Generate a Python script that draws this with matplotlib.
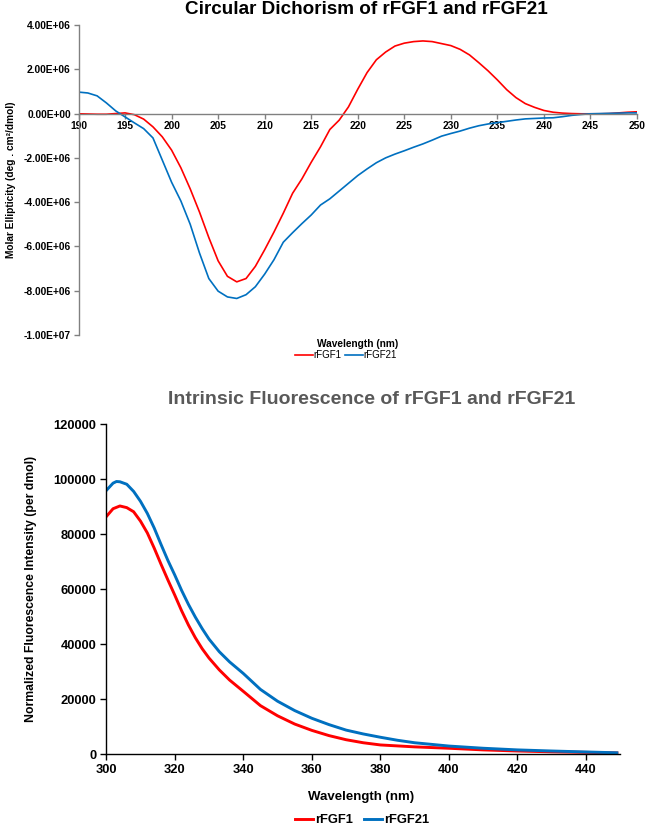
import matplotlib
matplotlib.use("Agg")
import matplotlib.pyplot as plt
from matplotlib.ticker import FuncFormatter, MultipleLocator
from matplotlib.lines import Line2D

plt.rcParams['font.family'] = ['Liberation Sans', 'DejaVu Sans']

# ---------------- Data: Circular Dichroism ----------------
cd_wavelength = list(range(190, 251))
cd_rfgf1 = [-0.01, -0.02, -0.03, -0.03, 0.0, 0.03, -0.05, -0.25, -0.6, -1.05,
            -1.65, -2.45, -3.4, -4.45, -5.6, -6.65, -7.35, -7.6, -7.45, -6.9,
            -6.15, -5.35, -4.5, -3.6, -2.95, -2.2, -1.5, -0.72, -0.3, 0.3,
            1.1, 1.85, 2.43, 2.78, 3.05, 3.18, 3.25, 3.28, 3.25, 3.16,
            3.07, 2.9, 2.65, 2.3, 1.93, 1.52, 1.08, 0.72, 0.45, 0.28,
            0.14, 0.06, 0.02, 0.0, -0.01, -0.01, -0.01, 0.0, 0.03, 0.06, 0.08]
cd_rfgf21 = [0.97, 0.93, 0.8, 0.48, 0.12, -0.15, -0.42, -0.68, -1.1, -2.1,
             -3.1, -3.95, -5.0, -6.3, -7.45, -8.02, -8.28, -8.35, -8.18, -7.82,
             -7.25, -6.6, -5.81, -5.38, -4.97, -4.58, -4.13, -3.85, -3.5, -3.15,
             -2.8, -2.5, -2.22, -2.0, -1.83, -1.68, -1.52, -1.37, -1.2, -1.02,
             -0.9, -0.79, -0.66, -0.55, -0.47, -0.41, -0.35, -0.29, -0.24, -0.22,
             -0.2, -0.19, -0.14, -0.08, -0.04, -0.01, 0.0, 0.01, 0.02, 0.03, 0.03]
cd_scale = 1e6

# ---------------- Data: Intrinsic Fluorescence ----------------
fl_wl_1 = [300, 302, 304, 306, 308, 310, 312, 314, 316, 318, 320, 322, 324, 326,
           328, 330, 333, 336, 340, 345, 350, 355, 360, 365, 370, 375, 380, 390,
           400, 410, 420, 430, 440, 449]
fl_rfgf1 = [86400, 89300, 90300, 89700, 88200, 84800, 80500, 75000, 69100, 63400,
            57900, 52200, 47000, 42400, 38400, 35000, 30700, 27000, 22900, 17700,
            14000, 11000, 8700, 6800, 5300, 4200, 3400, 2700, 2200, 1600, 1200,
            900, 700, 500]
fl_wl_21 = [300, 302, 303, 304, 306, 308, 310, 312, 314, 316, 318, 320, 322, 324,
            326, 328, 330, 333, 336, 340, 345, 350, 355, 360, 365, 370, 375, 380,
            385, 390, 400, 410, 420, 430, 440, 449]
fl_rfgf21 = [95900, 98600, 99200, 99100, 98200, 95600, 92000, 87600, 82300, 76300,
             70500, 65200, 59600, 54500, 49900, 45700, 41900, 37300, 33600, 29400,
             23600, 19300, 15900, 13100, 10800, 8800, 7400, 6200, 5100, 4200, 3000,
             2200, 1600, 1200, 850, 550]

series_names = ["rFGF1", "rFGF21"]
RED = "#FF0000"
BLUE = "#0070C0"

fig = plt.figure(figsize=(6.47, 8.26), dpi=100)
W, H = 647, 826

def ax_rect(x0, y0, x1, y1):
    return [x0 / W, 1 - y1 / H, (x1 - x0) / W, (y1 - y0) / H]

# ================= Top chart =================
ax1 = fig.add_axes(ax_rect(78.5, 25, 637, 335))
ax1.plot(cd_wavelength, [v * cd_scale for v in cd_rfgf1], color=RED, lw=1.2)
ax1.plot(cd_wavelength, [v * cd_scale for v in cd_rfgf21], color=BLUE, lw=1.2)
ax1.set_xlim(190, 250)
ax1.set_ylim(-1e7, 4e6)
ax1.yaxis.set_major_locator(MultipleLocator(2e6))
ax1.xaxis.set_major_locator(MultipleLocator(5))
ax1.yaxis.set_major_formatter(FuncFormatter(lambda v, p: format(v, '.2E')))
for s in ['top', 'right']:
    ax1.spines[s].set_visible(False)
ax1.spines['bottom'].set_position(('data', 0))
for s in ['left', 'bottom']:
    ax1.spines[s].set_color('#808080')
    ax1.spines[s].set_linewidth(1.0)
ax1.tick_params(axis='both', direction='out', length=3.5, width=1, color='#808080',
                labelsize=7.4, pad=2)
for lab in ax1.get_xticklabels() + ax1.get_yticklabels():
    lab.set_fontweight('bold')
ax1.set_ylabel("Molar Ellipticity (deg . cm\u00b2/dmol)", fontsize=7.3, fontweight='bold',
               labelpad=3)
ax1.yaxis.set_label_coords(-0.112, 0.5)
fig.text(366 / W, 1 - 10 / H, "Circular Dichorism of rFGF1 and rFGF21",
         ha='center', va='center', fontsize=13.6, fontweight='bold', color='black')
fig.text(358 / W, 1 - 344 / H, "Wavelength (nm)", ha='center', va='center',
         fontsize=7.3, fontweight='bold')
h1 = [Line2D([], [], color=RED, lw=1.2), Line2D([], [], color=BLUE, lw=1.2)]
fig.legend(h1, series_names, loc='center', bbox_to_anchor=(346 / W, 1 - 355 / H),
           ncol=2, frameon=False, fontsize=7.0, handlelength=1.9, handletextpad=0.05,
           columnspacing=0.3, borderpad=0)

# ================= Bottom chart =================
ax2 = fig.add_axes(ax_rect(106.2, 424.3, 620.3, 754.3))
ax2.plot(fl_wl_1, fl_rfgf1, color=RED, lw=2.1)
ax2.plot(fl_wl_21, fl_rfgf21, color=BLUE, lw=2.1)
ax2.set_xlim(300, 450)
ax2.set_ylim(0, 120000)
ax2.xaxis.set_major_locator(MultipleLocator(20))
ax2.yaxis.set_major_locator(MultipleLocator(20000))
for s in ['top', 'right']:
    ax2.spines[s].set_visible(False)
for s in ['left', 'bottom']:
    ax2.spines[s].set_color('black')
    ax2.spines[s].set_linewidth(1.0)
ax2.tick_params(axis='both', direction='out', length=4, width=1, color='black',
                labelsize=9.3, pad=3)
for lab in ax2.get_xticklabels() + ax2.get_yticklabels():
    lab.set_fontweight('bold')
ax2.set_ylabel("Normalized Fluorescence Intensity (per dmol)", fontsize=8.8,
               fontweight='bold')
ax2.yaxis.set_label_coords(-0.135, 0.5)
fig.text(372 / W, 1 - 400 / H, "Intrinsic Fluorescence of rFGF1 and rFGF21",
         ha='center', va='center', fontsize=14, fontweight='bold', color='#595959')
fig.text(361 / W, 1 - 797 / H, "Wavelength (nm)", ha='center', va='center',
         fontsize=9.5, fontweight='bold')
h2 = [Line2D([], [], color=RED, lw=2.1), Line2D([], [], color=BLUE, lw=2.1)]
fig.legend(h2, series_names, loc='center', bbox_to_anchor=(362 / W, 1 - 820 / H),
           ncol=2, frameon=False, prop={'size': 9.3, 'weight': 'bold'},
           handlelength=1.4, handletextpad=0.15, columnspacing=0.9, borderpad=0)

fig.savefig("out.png", dpi=100)
